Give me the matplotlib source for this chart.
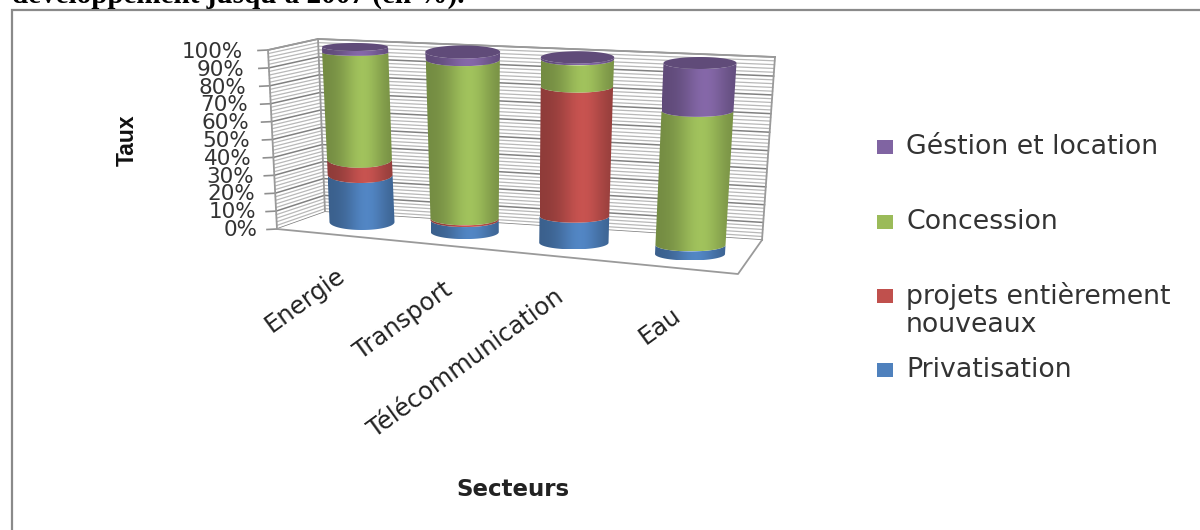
import numpy as np
import matplotlib
matplotlib.use("Agg")
import matplotlib.pyplot as plt
from matplotlib.patches import Polygon, Rectangle

categories = ["Energie", "Transport", "Télécommunication", "Eau"]
privatisation = [28, 7, 15, 5]
projets = [9, 1, 70, 0]
concession = [60, 88, 14, 71]
gestion = [3, 4, 1, 24]
series_names = ["Privatisation", "projets entièrement\nnouveaux", "Concession", "Géstion et location"]
tick_labels = [f"{v}%" for v in range(0, 101, 10)]
colors = ["#4F81BD", "#C0504D", "#9BBB59", "#8064A2"]


def homography(corners):
    """Unit square (u, v) -> screen: corners for (0,0), (1,0), (0,1), (1,1)."""
    src = [(0, 0), (1, 0), (0, 1), (1, 1)]
    A, b = [], []
    for (u, v), (x, y) in zip(src, corners):
        A.append([u, v, 1, 0, 0, 0, -u * x, -v * x]); b.append(x)
        A.append([0, 0, 0, u, v, 1, -u * y, -v * y]); b.append(y)
    p = np.linalg.solve(np.array(A, float), np.array(b, float))
    H = np.append(p, 1).reshape(3, 3)

    def f(u, v):
        w = H @ np.array([u, v, 1.0])
        return w[0] / w[2], w[1] / w[2]
    return f


fig = plt.figure(figsize=(12, 5.3), dpi=100)
ax = fig.add_axes([0, 0, 1, 1])

# frame of the embedded picture and the cropped caption above it
ax.add_patch(Rectangle((11.5, 10), 1300, 600, fc="white", ec="#8a8a8a", lw=1.6))
ax.text(12, 3, "développement jusqu'à 2007 (en %).", family="Liberation Serif",
        weight="bold", fontsize=21, ha="left", va="baseline")

back = homography([(325, 212), (762, 240), (318, 39), (775, 57)])
side_front = (277, 229), (268, 50)

# back wall and left wall grid
for v in range(0, 101, 2):
    major = v % 10 == 0
    c, lw = ("#808080", 1.1) if major else ("#b8b8b8", 0.9)
    t = v / 100
    p0, p1 = back(0, t), back(1, t)
    ax.plot([p0[0], p1[0]], [p0[1], p1[1]], color=c, lw=lw, zorder=1)
    fx = side_front[0][0] + (side_front[1][0] - side_front[0][0]) * t
    fy = side_front[0][1] + (side_front[1][1] - side_front[0][1]) * t
    ax.plot([fx, p0[0]], [fy, p0[1]], color=c, lw=lw, zorder=1)
    if major:
        ax.plot([fx - 10, fx], [fy + 0.5, fy], color="#8f8f8f", lw=1.2, zorder=1)
        ax.text(258 - 15 * t, fy + 1 + 1 * t, tick_labels[v // 10], ha="right", va="center",
                fontsize=15.5, color="#333333", zorder=3, family="DejaVu Sans")

# outlines
for pts in ([(268, 50), (277, 229)],
            [(762, 240), (775, 57)],
            [(268, 50), (318, 39), (775, 57)],
            [(325, 212), (318, 39)]):
    xs, ys = zip(*pts)
    ax.plot(xs, ys, color="#9a9a9a", lw=1.3, zorder=1)
ax.add_patch(Polygon([(277, 229), (738, 274), (762, 240), (325, 212)],
                     fc="white", ec="none", zorder=1.5))
ax.plot([277, 738, 762], [229, 274, 240], color="#9a9a9a", lw=1.3, zorder=1.6)

# plane through the cylinder axes
axis_plane = homography([(362, 222), (690, 254), (355, 47), (700, 63)])
rx_at = homography([(32.5, 8), (35, 6.5), (33, 4), (36.5, 6)])


def gradient(hexcol):
    base = np.array(matplotlib.colors.to_rgb(hexcol))
    t = np.linspace(0, 1, 128)
    f = 0.74 + 0.30 * np.exp(-((t - 0.58) / 0.30) ** 2)
    return np.clip(base[None, None, :] * f[None, :, None], 0, 1)


def arc(i, h, thetas):
    u, v = i / 3, h / 100
    cx, cy = axis_plane(u, v)
    rx, ry = rx_at(u, v)
    return cx + rx * np.cos(thetas), cy + ry * np.sin(thetas)


stack = [privatisation, projets, concession, gestion]
thetas = np.linspace(np.pi, 0, 61)   # left to right along the front (y grows downward)
for i in range(len(categories)):
    h0 = 0
    last = 0
    for s, vals in enumerate(stack):
        val = vals[i]
        if val <= 0:
            continue
        h1 = h0 + val
        xb, yb = arc(i, h0, thetas)
        xt, yt = arc(i, h1, thetas)
        pts = np.r_[np.c_[xb, yb], np.c_[xt, yt][::-1]]
        band = Polygon(pts, fc="none", ec="none", transform=ax.transData)
        ax.add_patch(band)
        im = ax.imshow(gradient(colors[s]),
                       extent=(pts[:, 0].min(), pts[:, 0].max(), pts[:, 1].max(), pts[:, 1].min()),
                       aspect="auto", zorder=5 + i, interpolation="bilinear")
        im.set_clip_path(band)
        h0 = h1
        last = s
    full = np.linspace(0, 2 * np.pi, 90)
    xc, yc = arc(i, h0, full)
    ax.add_patch(Polygon(np.c_[xc, yc], fc=gradient(colors[last])[0, 2], ec="none", zorder=6 + i))

# category labels
label_ends = [(335, 263), (442, 277), (554, 285), (671, 303)]
for name, (x, y) in zip(categories, label_ends):
    ax.text(x, y, name, rotation=36, ha="right", va="top", rotation_mode="anchor",
            fontsize=17.5, color="#222222", family="DejaVu Sans")

# axis titles
ax.text(127, 140, "Taux", rotation=90, ha="center", va="center", weight="bold",
        fontsize=16.5, family="Liberation Sans", color="#111111")
ax.text(513, 490, "Secteurs", ha="center", va="center", weight="bold",
        fontsize=16.5, family="DejaVu Sans", color="#222222")

# legend
legend_y = [370, 296, 222, 147]
for s, (name, y) in enumerate(zip(series_names, legend_y)):
    ax.add_patch(Rectangle((877, y - 7), 16, 14, fc=colors[s], ec="none"))
    if "\n" in name:
        ax.text(906, y + 14, name, ha="left", va="center", fontsize=19.3,
                linespacing=1.1, color="#333333", family="DejaVu Sans")
    else:
        ax.text(906, y, name, ha="left", va="center", fontsize=19.3,
                color="#333333", family="DejaVu Sans")

ax.set_xlim(0, 1200)
ax.set_ylim(530, 0)
ax.axis("off")

fig.savefig("out.png", dpi=100)
